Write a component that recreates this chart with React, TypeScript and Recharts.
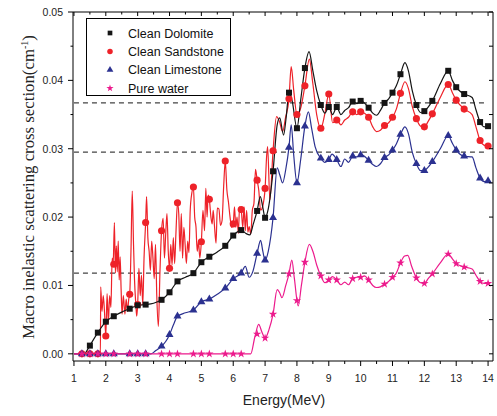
import React from 'react';
import { ComposedChart, Line, Scatter, XAxis, YAxis, ReferenceLine, Symbols } from 'recharts';

const SANS = '"Liberation Sans", Arial, sans-serif';
const SERIF = '"Liberation Serif", "Times New Roman", serif';

// axis ticks
const xMajor = [1, 2, 3, 4, 5, 6, 7, 8, 9, 10, 11, 12, 13, 14];
const xMinor = [1.5, 2.5, 3.5, 4.5, 5.5, 6.5, 7.5, 8.5, 9.5, 10.5, 11.5, 12.5, 13.5];
const yMajor = [0, 0.01, 0.02, 0.03, 0.04, 0.05];
const yMinor = [0.005, 0.015, 0.025, 0.035, 0.045];
const dashLevels = [0.0367, 0.0295, 0.0118];

// energies where symbols are drawn
const markE = [1.25, 1.5, 1.75, 2, 2.25, 2.75, 3, 3.25, 3.75, 4, 4.25, 4.75, 5, 5.25, 5.75, 6, 6.25, 6.75, 7, 7.25,
  7.75, 8, 8.25, 8.75, 9, 9.25, 9.75, 10, 10.25, 10.75, 11, 11.25, 11.75, 12, 12.25, 12.75, 13, 13.25, 13.75, 14];

const dolomiteMarks = [null, 0.0012, 0.0031, 0.0047, 0.0055, 0.0066, 0.0071, 0.0072, 0.0079, 0.0090, 0.0106, 0.0118,
  0.0134, 0.0142, 0.0158, 0.0173, 0.0181, 0.0209, 0.0199, 0.0267, 0.0382, 0.0330, 0.0418, 0.0364, 0.0361, 0.0361,
  0.0369, 0.0370, 0.0360, 0.0367, 0.0382, 0.0409, 0.0364, 0.0355, 0.0370, 0.0414, 0.0390, 0.0380, 0.0339, 0.0333];
const sandstoneMarks = [0, 0, 0, 0.0026, 0.0131, 0.0087, 0.0072, 0.0192, 0.0180, 0.0125, 0.0221, 0.0244, 0.0164,
  0.0226, 0.0282, 0.0190, 0.0211, 0.0254, 0.0242, 0.0297, 0.0373, 0.0350, 0.0392, 0.0330, 0.0380, 0.0342, 0.0354,
  0.0354, 0.0346, 0.0334, 0.0346, 0.0381, 0.0344, 0.0332, 0.0351, 0.0394, 0.0371, 0.0358, 0.0312, 0.0304];
const limestoneMarks = [0, 0, 0, 0, 0, 0, 0, 0, 0.0011, 0.0028, 0.0055, 0.0064, 0.0076, 0.0080, 0.0096, 0.0110,
  0.0118, 0.0147, 0.0137, 0.0199, 0.0302, 0.0250, 0.0333, 0.0286, 0.0284, 0.0284, 0.0289, 0.0291, 0.0283, 0.0287,
  0.0298, 0.0321, 0.0278, 0.0268, 0.0281, 0.0319, 0.0298, 0.0289, 0.0257, 0.0253];
const waterMarks = [0, 0, 0, 0, 0, 0, 0, 0, 0, 0, 0, 0, 0, 0, 0, 0, 0, 0.0029, 0.0023, 0.0058, 0.0117, 0.0078,
  0.0134, 0.0114, 0.0108, 0.0108, 0.0110, 0.0112, 0.0108, 0.0102, 0.0112, 0.0133, 0.0111, 0.0103, 0.0117, 0.0146,
  0.0132, 0.0127, 0.0106, 0.0103];

// curves [energy, value]
const dolomiteCurve = [
  [1.35, 0], [1.5, 0.0012], [1.75, 0.0031], [2, 0.0047], [2.25, 0.0055], [2.5, 0.0061], [2.75, 0.0066], [3, 0.0071],
  [3.25, 0.0072], [3.5, 0.0074], [3.75, 0.0079], [4, 0.0090], [4.25, 0.0106], [4.5, 0.0112], [4.75, 0.0118],
  [5, 0.0134], [5.25, 0.0142], [5.5, 0.0149], [5.75, 0.0158], [6, 0.0173], [6.25, 0.0181], [6.4, 0.0176],
  [6.52, 0.0174], [6.63, 0.0190], [6.75, 0.0209], [6.85, 0.0230], [6.93, 0.0214], [7, 0.0199], [7.1, 0.0212],
  [7.25, 0.0267], [7.38, 0.0335], [7.46, 0.0345], [7.58, 0.0320], [7.66, 0.0345], [7.75, 0.0382], [7.85, 0.0370],
  [8, 0.0330], [8.12, 0.0372], [8.25, 0.0418], [8.38, 0.0442], [8.5, 0.0414], [8.62, 0.0385], [8.75, 0.0364],
  [8.88, 0.0352], [9, 0.0361], [9.12, 0.0350], [9.25, 0.0361], [9.38, 0.0350], [9.5, 0.0356], [9.62, 0.0360],
  [9.75, 0.0369], [9.88, 0.0366], [10, 0.0370], [10.12, 0.0367], [10.25, 0.0360], [10.38, 0.0352], [10.5, 0.0349],
  [10.62, 0.0356], [10.75, 0.0367], [10.88, 0.0373], [11, 0.0382], [11.12, 0.0392], [11.25, 0.0409], [11.39, 0.0426],
  [11.5, 0.0414], [11.62, 0.0385], [11.75, 0.0364], [11.88, 0.0353], [12, 0.0355], [12.12, 0.0361], [12.25, 0.0370],
  [12.5, 0.0395], [12.75, 0.0414], [12.88, 0.0400], [13, 0.0390], [13.12, 0.0384], [13.25, 0.0380], [13.5, 0.0375],
  [13.62, 0.0357], [13.75, 0.0339], [13.88, 0.0332], [14, 0.0333],
];
const sandstoneCurve = [
  [1, 0], [1.25, 0], [1.5, 0], [1.75, 0], [1.83, 0], [1.84, 0.0098], [1.88, 0.0062], [1.92, 0.0085], [1.96, 0.0060],
  [2, 0.0026], [2.04, 0.0088], [2.08, 0.0045], [2.12, 0.0085], [2.16, 0.0068], [2.2, 0.0140], [2.23, 0.0131],
  [2.27, 0.0192], [2.3, 0.0118], [2.33, 0.0158], [2.36, 0.0120], [2.39, 0.0165], [2.42, 0.0108], [2.45, 0.0142],
  [2.48, 0.0095], [2.51, 0.0058], [2.55, 0.0085], [2.6, 0.0058], [2.64, 0.0080], [2.68, 0.0062], [2.72, 0.0080],
  [2.75, 0.0087], [2.79, 0.0150], [2.83, 0.0238], [2.87, 0.0160], [2.9, 0.0110], [2.94, 0.0074], [2.97, 0.0055],
  [3, 0.0072], [3.04, 0.0125], [3.08, 0.0085], [3.12, 0.0115], [3.16, 0.0072], [3.2, 0.0140], [3.25, 0.0192],
  [3.28, 0.0230], [3.32, 0.0170], [3.36, 0.0150], [3.4, 0.0122], [3.44, 0.0165], [3.48, 0.0140], [3.52, 0.0110],
  [3.56, 0.0160], [3.6, 0.0085], [3.65, 0.0040], [3.7, 0.0120], [3.75, 0.0180], [3.8, 0.0198], [3.84, 0.0140],
  [3.88, 0.0175], [3.92, 0.0205], [3.96, 0.0150], [4, 0.0125], [4.04, 0.0160], [4.08, 0.0130], [4.12, 0.0170],
  [4.16, 0.0132], [4.2, 0.0175], [4.25, 0.0221], [4.29, 0.0205], [4.33, 0.0150], [4.37, 0.0205], [4.41, 0.0140],
  [4.45, 0.0185], [4.49, 0.0160], [4.53, 0.0132], [4.57, 0.0165], [4.61, 0.0148], [4.65, 0.0210], [4.7, 0.0235],
  [4.75, 0.0244], [4.79, 0.0200], [4.83, 0.0186], [4.87, 0.0150], [4.91, 0.0165], [4.95, 0.0140], [5, 0.0164],
  [5.05, 0.0210], [5.1, 0.0180], [5.14, 0.0242], [5.18, 0.0200], [5.21, 0.0232], [5.25, 0.0226], [5.3, 0.0200],
  [5.34, 0.0190], [5.37, 0.0210], [5.41, 0.0188], [5.46, 0.0162], [5.5, 0.0213], [5.55, 0.0212], [5.6, 0.0188],
  [5.65, 0.0195], [5.7, 0.0245], [5.75, 0.0282], [5.8, 0.0240], [5.85, 0.0222], [5.9, 0.0200], [5.95, 0.0185],
  [6, 0.0190], [6.04, 0.0215], [6.08, 0.0185], [6.12, 0.0200], [6.16, 0.0176], [6.2, 0.0215], [6.25, 0.0211],
  [6.3, 0.0185], [6.34, 0.0215], [6.38, 0.0180], [6.42, 0.0210], [6.46, 0.0178], [6.5, 0.0186], [6.55, 0.0175],
  [6.6, 0.0210], [6.65, 0.0220], [6.7, 0.0270], [6.75, 0.0254], [6.8, 0.0240], [6.86, 0.0210], [6.92, 0.0215],
  [7, 0.0242], [7.05, 0.0290], [7.08, 0.0303], [7.15, 0.0225], [7.25, 0.0297], [7.36, 0.0347], [7.45, 0.0340],
  [7.55, 0.0325], [7.64, 0.0345], [7.75, 0.0373], [7.82, 0.0420], [7.9, 0.0385], [8, 0.0350], [8.12, 0.0360],
  [8.25, 0.0392], [8.39, 0.0431], [8.5, 0.0395], [8.62, 0.0350], [8.75, 0.0330], [8.88, 0.0352], [9, 0.0380],
  [9.12, 0.0338], [9.25, 0.0342], [9.38, 0.0335], [9.5, 0.0342], [9.62, 0.0346], [9.75, 0.0354], [9.88, 0.0350],
  [10, 0.0354], [10.12, 0.0352], [10.25, 0.0346], [10.38, 0.0332], [10.5, 0.0325], [10.62, 0.0327], [10.75, 0.0334],
  [10.88, 0.0338], [11, 0.0346], [11.12, 0.0358], [11.25, 0.0381], [11.39, 0.0398], [11.5, 0.0388], [11.62, 0.0362],
  [11.75, 0.0344], [11.88, 0.0333], [12, 0.0332], [12.12, 0.0340], [12.25, 0.0351], [12.5, 0.0375], [12.75, 0.0394],
  [12.88, 0.0382], [13, 0.0371], [13.12, 0.0364], [13.25, 0.0358], [13.5, 0.0350], [13.62, 0.0332], [13.75, 0.0312],
  [13.88, 0.0305], [14, 0.0304],
];
const limestoneCurve = [
  [1, 0], [2, 0], [3, 0], [3.25, 0], [3.42, 0], [3.55, 0.0004], [3.75, 0.0011], [3.88, 0.0018], [4, 0.0028],
  [4.12, 0.0042], [4.25, 0.0055], [4.5, 0.0060], [4.75, 0.0064], [5, 0.0076], [5.25, 0.0080], [5.5, 0.0087],
  [5.75, 0.0096], [6, 0.0110], [6.25, 0.0118], [6.38, 0.0128], [6.5, 0.0112], [6.62, 0.0121], [6.75, 0.0147],
  [6.86, 0.0166], [6.93, 0.0150], [7, 0.0137], [7.1, 0.0150], [7.25, 0.0199], [7.38, 0.0272], [7.46, 0.0262],
  [7.55, 0.0250], [7.65, 0.0270], [7.75, 0.0302], [7.82, 0.0335], [7.9, 0.0290], [8, 0.0250], [8.12, 0.0285],
  [8.25, 0.0333], [8.36, 0.0354], [8.46, 0.0330], [8.57, 0.0303], [8.75, 0.0286], [8.88, 0.0280], [9, 0.0284],
  [9.1, 0.0292], [9.25, 0.0284], [9.38, 0.0274], [9.5, 0.0285], [9.62, 0.0280], [9.75, 0.0289], [9.88, 0.0288],
  [10, 0.0291], [10.12, 0.0289], [10.25, 0.0283], [10.38, 0.0277], [10.5, 0.0274], [10.62, 0.0278], [10.75, 0.0287],
  [10.88, 0.0291], [11, 0.0298], [11.12, 0.0307], [11.25, 0.0321], [11.39, 0.0332], [11.5, 0.0322], [11.62, 0.0295],
  [11.75, 0.0278], [11.88, 0.0268], [12, 0.0268], [12.12, 0.0273], [12.25, 0.0281], [12.5, 0.0300], [12.75, 0.0319],
  [12.88, 0.0308], [13, 0.0298], [13.12, 0.0292], [13.25, 0.0289], [13.5, 0.0288], [13.62, 0.0272], [13.75, 0.0257],
  [13.88, 0.0252], [14, 0.0253],
];
const waterCurve = [
  [1, 0], [3, 0], [5, 0], [6.55, 0], [6.68, 0.0025], [6.8, 0.0043], [6.9, 0.0032], [7, 0.0023], [7.12, 0.0035],
  [7.25, 0.0058], [7.38, 0.0094], [7.45, 0.0090], [7.53, 0.0082], [7.65, 0.0100], [7.75, 0.0117], [7.84, 0.0137],
  [7.92, 0.0110], [8.04, 0.0070], [8.14, 0.0100], [8.25, 0.0134], [8.39, 0.0160], [8.5, 0.0150], [8.62, 0.0130],
  [8.75, 0.0114], [8.88, 0.0104], [9, 0.0108], [9.12, 0.0113], [9.25, 0.0108], [9.38, 0.0101], [9.5, 0.0105],
  [9.62, 0.0101], [9.75, 0.0110], [9.88, 0.0112], [10, 0.0112], [10.12, 0.0114], [10.25, 0.0108], [10.38, 0.0100],
  [10.5, 0.0097], [10.62, 0.0098], [10.75, 0.0102], [10.88, 0.0106], [11, 0.0112], [11.12, 0.0118], [11.25, 0.0133],
  [11.38, 0.0143], [11.48, 0.0144], [11.6, 0.0128], [11.75, 0.0111], [11.88, 0.0104], [12, 0.0103], [12.12, 0.0110],
  [12.25, 0.0117], [12.5, 0.0133], [12.75, 0.0146], [12.88, 0.0139], [13, 0.0132], [13.12, 0.0129], [13.25, 0.0127],
  [13.5, 0.0124], [13.62, 0.0115], [13.75, 0.0106], [13.88, 0.0103], [14, 0.0103],
];

const toPoints = (pairs: number[][]) => pairs.map(([x, y]) => ({ x, y }));
const toMarks = (vals: (number | null)[]) =>
  markE.map((x, i) => ({ x, y: vals[i] })).filter((p) => p.y !== null);

const series = [
  { name: 'Clean Dolomite', color: '#151515', type: 'square', size: 36, legendSize: 22, curve: dolomiteCurve, marks: dolomiteMarks },
  { name: 'Clean Sandstone', color: '#ee2229', type: 'circle', size: 40, legendSize: 24, curve: sandstoneCurve, marks: sandstoneMarks },
  { name: 'Clean Limestone', color: '#2b3190', type: 'triangle', size: 28, legendSize: 20, curve: limestoneCurve, marks: limestoneMarks },
  { name: 'Pure water', color: '#ec1a8c', type: 'star', size: 22, legendSize: 16, curve: waterCurve, marks: waterMarks },
];
// drawing order: sandstone first so the other curves sit on it
const drawOrder = [1, 0, 2, 3];

const BottomTick = (props: any) => {
  const { x, y, payload } = props;
  const major = xMajor.includes(payload.value);
  return (
    <g>
      <line x1={x} y1={y} x2={x} y2={y + (major ? 5 : 3)} stroke="#000" />
      {major && (
        <text x={x} y={y + 21} textAnchor="middle" fontSize={10.5} fontFamily={SANS} fill="#222">
          {payload.value}
        </text>
      )}
    </g>
  );
};

const TopTick = (props: any) => {
  const { x, y, payload } = props;
  const major = xMajor.includes(payload.value);
  return <line x1={x} y1={y} x2={x} y2={y + (major ? 4 : 2.5)} stroke="#000" />;
};

const LeftTick = (props: any) => {
  const { x, y, payload } = props;
  const major = yMajor.includes(payload.value);
  return (
    <g>
      <line x1={x} y1={y} x2={x - (major ? 5 : 2.5)} y2={y} stroke="#000" />
      {major && (
        <text x={x - 10} y={y + 4} textAnchor="end" fontSize={10.5} fontFamily={SANS} fill="#222">
          {payload.value.toFixed(2)}
        </text>
      )}
    </g>
  );
};

const RightTick = (props: any) => {
  const { x, y } = props;
  return <line x1={x} y1={y} x2={x - 4} y2={y} stroke="#000" />;
};

const makeShape = (type: any, size: number, color: string) => (p: any) =>
  <Symbols cx={p.cx} cy={p.cy} type={type} size={size} fill={color} />;

export default function App() {
  const xTicks = [...xMajor, ...xMinor];
  const yTicks = [...yMajor, ...yMinor];
  const xDomain = [0.97, 14.155];
  const yDomain = [-0.00105, 0.05];

  return (
    <div style={{ position: 'absolute', left: 0, top: 0, width: 497, height: 416, background: '#fff' }}>
      <ComposedChart width={497} height={416} margin={{ top: 11, right: 3, bottom: 54, left: 72 }}>
        <XAxis xAxisId={0} dataKey="x" type="number" domain={xDomain} allowDataOverflow ticks={xTicks}
          interval={0} height={1} tickSize={0} tickMargin={0} tick={BottomTick} axisLine={{ stroke: '#000' }} />
        <XAxis xAxisId="top" orientation="top" dataKey="x" type="number" domain={xDomain} allowDataOverflow
          ticks={xTicks} interval={0} height={1} tickSize={0} tickMargin={0} tick={TopTick} axisLine={{ stroke: '#000' }} />
        <YAxis yAxisId={0} type="number" domain={yDomain} allowDataOverflow ticks={yTicks} interval={0}
          width={1} tickSize={0} tickMargin={0} tick={LeftTick} axisLine={{ stroke: '#000' }} />
        <YAxis yAxisId="right" orientation="right" type="number" domain={yDomain} allowDataOverflow ticks={yTicks}
          interval={0} width={1} tickSize={0} tickMargin={0} tick={RightTick} axisLine={{ stroke: '#000' }} />

        {dashLevels.map((v) => (
          <ReferenceLine key={v} segment={[{ x: 1.0, y: v }, { x: 13.95, y: v }]} stroke="#444"
            strokeWidth={1.2} strokeDasharray="5 4" />
        ))}

        {drawOrder.map((i) => {
          const s = series[i];
          return (
            <Line key={'l' + i} data={toPoints(s.curve)} dataKey="y" type="monotone" stroke={s.color}
              strokeWidth={1.2} dot={false} activeDot={false} isAnimationActive={false} />
          );
        })}
        {drawOrder.map((i) => {
          const s = series[i];
          return (
            <Scatter key={'m' + i} data={toMarks(s.marks)} dataKey="y" shape={makeShape(s.type, s.size, s.color)}
              isAnimationActive={false} />
          );
        })}
      </ComposedChart>

      <svg width={497} height={416} style={{ position: 'absolute', left: 0, top: 0, pointerEvents: 'none' }}>
        <text transform="rotate(-90)" x={-187} y={34} textAnchor="middle" fontFamily={SERIF} fontSize={16.8} fill="#222">
          Macro inelastic scattering cross section(cm<tspan dy={-6} fontSize={10}>-1</tspan>
          <tspan dy={6}>)</tspan>
        </text>
        <text x={284} y={405} textAnchor="middle" fontFamily={SANS} fontSize={14} fill="#222">
          Energy(MeV)
        </text>

        <rect x={86.5} y={18.5} width={144} height={77} fill="#fff" stroke="#000" strokeWidth={1} />
        {series.map((s, i) => (
          <g key={s.name}>
            <Symbols cx={110} cy={33 + i * 18.4} type={s.type as any} size={s.legendSize} fill={s.color} />
            <text x={128} y={33 + i * 18.4 + 4.5} fontFamily={SANS} fontSize={12.5} fill="#111">
              {s.name}
            </text>
          </g>
        ))}
      </svg>
    </div>
  );
}
